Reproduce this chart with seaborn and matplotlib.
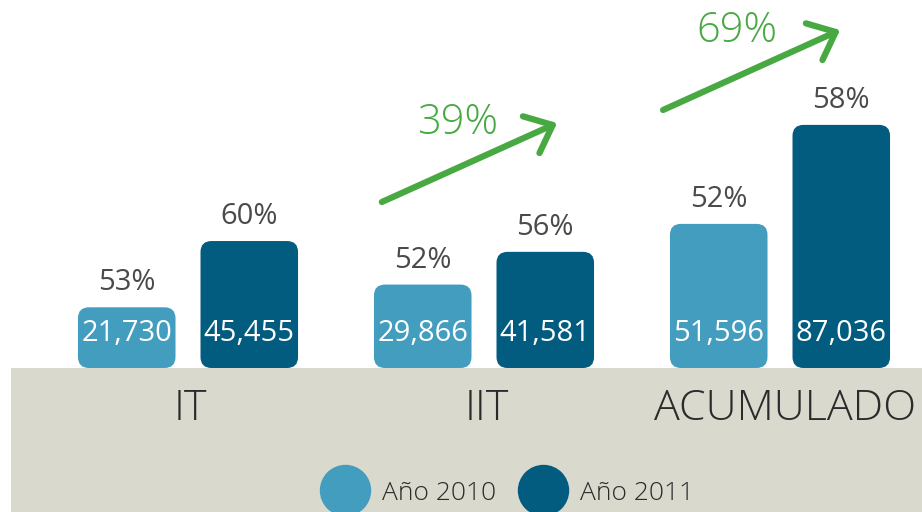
import pandas as pd
import seaborn as sns
import matplotlib.pyplot as plt
from matplotlib.patches import FancyBboxPatch
from matplotlib.lines import Line2D

# data
grupos = ["IT", "IIT", "ACUMULADO"]
anios = ["Año 2010", "Año 2011"]
valores_2010 = [21730, 29866, 51596]
valores_2011 = [45455, 41581, 87036]
pct_2010 = ["53%", "52%", "52%"]
pct_2011 = ["60%", "56%", "58%"]
crecimiento = ["39%", "69%"]   # IIT and ACUMULADO

azul_claro = "#439dbe"
azul_oscuro = "#025c80"
verde = "#48a942"
gris_banda = "#d9d9ce"
gris_texto = "#4a4a4a"

df = pd.DataFrame({
    "grupo": grupos * 2,
    "anio": [anios[0]] * 3 + [anios[1]] * 3,
    "valor": valores_2010 + valores_2011,
})

sns.set_style("white")
plt.rcParams["font.family"] = ["Open Sans", "DejaVu Sans"]

fig = plt.figure(figsize=(9.22, 5.12), dpi=100)
ax = fig.add_axes([0, 0, 1, 1])

# pixel scales: 296 px per category, ~358 units per px vertically
px_x = 1 / 296
px_y = 358

sns.barplot(data=df, x="grupo", y="valor", hue="anio", order=grupos,
            hue_order=anios, palette=[azul_claro, azul_oscuro], saturation=1,
            width=0.828, gap=0.204, legend=False, ax=ax, zorder=2)
ax.set_xlim(-188 * px_x, (922 - 188) * px_x)
ax.set_ylim(-144 * px_y, 368 * px_y)
ax.set_axis_off()

# labels on bars, then swap the rectangles for rounded ones
radio = 11 * px_x
for cont, vals, pcts in zip(ax.containers, [valores_2010, valores_2011], [pct_2010, pct_2011]):
    for rect, v, pc in zip(cont, vals, pcts):
        x, w, h = rect.get_x(), rect.get_width(), rect.get_height()
        cx = x + w / 2
        ax.annotate(f"{v:,}", (cx, 0), xytext=(0, 24.5), textcoords="offset points",
                    ha="center", va="center", color="white", fontsize=21, zorder=4)
        ax.annotate(pc, (cx, h), xytext=(0, 17.5), textcoords="offset points",
                    ha="center", va="center", color=gris_texto, fontsize=21, zorder=4)
        fc = rect.get_facecolor()
        rect.remove()
        ax.add_patch(FancyBboxPatch((x, rect.get_y()), w, h,
                                    boxstyle=f"round,pad=0,rounding_size={radio}",
                                    mutation_aspect=px_y / px_x, fc=fc, ec="none", zorder=2))

# gray band under the bars
ax.axhspan(-144 * px_y, 0, xmin=11 / 922, xmax=1, color=gris_banda, zorder=0, lw=0)

# category names in the band
for i, g in enumerate(grupos):
    ax.annotate(g, (i, 0), xytext=(2 + 2 * (i == 2), -29), textcoords="offset points",
                ha="center", va="center", color="#2b2b2b", fontsize=31, fontweight="light")

# growth arrows: (x start, y start px, x tip, y tip px, text x, text y px)
flechas = [(0.655, 202, 1.247, 123, 0.909, 123),
           (1.605, 110, 2.203, 30, 1.855, 31)]
for (x0, y0, x1, y1, tx, ty), txt in zip(flechas, crecimiento):
    ax.annotate("", xy=(x1, (368 - y1) * px_y), xytext=(x0, (368 - y0) * px_y),
                arrowprops=dict(arrowstyle="->,head_length=1.7,head_width=1.45",
                                mutation_scale=10, lw=4.5, color=verde,
                                shrinkA=0, shrinkB=0))
    ax.text(tx, (368 - ty) * px_y, txt, ha="center", va="center", color=verde,
            fontsize=30, fontweight="light")

# legend with big circles
handles = [Line2D([], [], ls="none", marker="o", markersize=36, color=c)
           for c in [azul_claro, azul_oscuro]]
ax.legend(handles, anios, loc="center", bbox_to_anchor=(507 / 922, 19 / 512),
          ncol=2, frameon=False, handlelength=1.9, handletextpad=0.45,
          columnspacing=0.8, borderpad=0, labelcolor="#2b2b2b",
          prop={"weight": "light", "size": 19})

fig.savefig("out.png", dpi=100, facecolor="white")
